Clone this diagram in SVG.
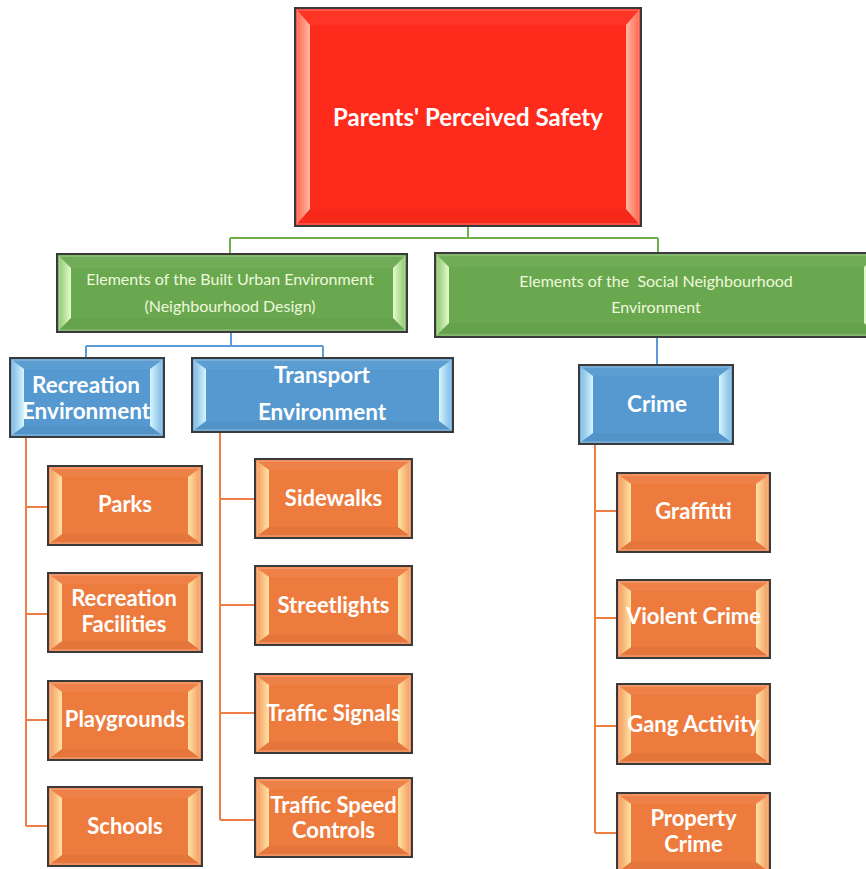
<svg xmlns="http://www.w3.org/2000/svg" width="866" height="869" viewBox="0 0 866 869">
<defs>
<linearGradient id="gRedL" x1="0" y1="0" x2="1" y2="0"><stop offset="0" stop-color="#ff6a52"/><stop offset="1" stop-color="#ffb9a4"/></linearGradient>
<linearGradient id="gRedR" x1="1" y1="0" x2="0" y2="0"><stop offset="0" stop-color="#ff6a52"/><stop offset="1" stop-color="#ffb9a4"/></linearGradient>
<linearGradient id="gGrnL" x1="0" y1="0" x2="1" y2="0"><stop offset="0" stop-color="#92c874"/><stop offset="1" stop-color="#e4fccc"/></linearGradient>
<linearGradient id="gGrnR" x1="1" y1="0" x2="0" y2="0"><stop offset="0" stop-color="#92c874"/><stop offset="1" stop-color="#e4fccc"/></linearGradient>
<linearGradient id="gBluL" x1="0" y1="0" x2="1" y2="0"><stop offset="0" stop-color="#80bbe4"/><stop offset="1" stop-color="#d6f5ff"/></linearGradient>
<linearGradient id="gBluR" x1="1" y1="0" x2="0" y2="0"><stop offset="0" stop-color="#80bbe4"/><stop offset="1" stop-color="#d6f5ff"/></linearGradient>
<linearGradient id="gOrgL" x1="0" y1="0" x2="1" y2="0"><stop offset="0" stop-color="#f49c62"/><stop offset="1" stop-color="#ffe4a4"/></linearGradient>
<linearGradient id="gOrgR" x1="1" y1="0" x2="0" y2="0"><stop offset="0" stop-color="#f49c62"/><stop offset="1" stop-color="#ffe4a4"/></linearGradient>
<style>
.box{stroke:#3a3a3a;stroke-width:2}
.red{fill:#fe2a1b}.grn{fill:#6aa84f}.blu{fill:#5599d0}.org{fill:#ee7b3e}
.redL{fill:url(#gRedL)}.redR{fill:url(#gRedR)}
.grnL{fill:url(#gGrnL)}.grnR{fill:url(#gGrnR)}
.bluL{fill:url(#gBluL)}.bluR{fill:url(#gBluR)}
.orgL{fill:url(#gOrgL)}.orgR{fill:url(#gOrgR)}
.top{fill:#ffffff;fill-opacity:0.05}.bot{fill:#000000;fill-opacity:0.035}
.rim{fill:none;stroke:#ffffff;stroke-opacity:0.35;stroke-width:1}
text{font-family:Lato,"Liberation Sans",sans-serif;fill:#ffffff;text-anchor:middle}
.t1{font-size:24px;font-weight:bold}
.t2{font-size:16px;font-weight:normal;fill:#eef8dc}
.t3{font-size:22.5px;font-weight:bold}
.t4{font-size:22px;font-weight:bold}
.con{fill:none;stroke-width:2}
.cg{stroke:#72ae4e}.cb{stroke:#5b9bd5}.co{stroke:#f07d44}
</style>
</defs>
<rect x="0" y="0" width="866" height="869" fill="#ffffff"/>

<g id="connectors">
<path class="con cg" d="M468,226 V238 M230,238 H658 M230,238 V254 M658,238 V253"/>
<path class="con cb" d="M231,332 V346 M86,346 H323 M86,346 V358 M323,346 V358 M657,337 V365"/>
<path class="con co" d="M26,437 V826 M26,507 H48 M26,614 H48 M26,720 H48 M26,826 H48"/>
<path class="con co" d="M220,432 V820 M220,499 H255 M220,605 H255 M220,713 H255 M220,820 H255"/>
<path class="con co" d="M595,444 V833 M595,511 H617 M595,618 H617 M595,726 H617 M595,833 H617"/>
</g>

<g id="root" transform="translate(295,8)">
<rect class="box red" width="346" height="218"/>
<polygon class="top" points="2,2 344,2 331,17 15,17"/>
<polygon class="bot" points="2,216 344,216 331,201 15,201"/>
<polygon class="redL" points="2,2 15,17 15,201 2,216"/>
<polygon class="redR" points="344,2 331,17 331,201 344,216"/>
<rect class="rim" x="2" y="2" width="342" height="214"/>
<text class="t1" x="173" y="118">Parents' Perceived Safety</text>
</g>

<g id="built" transform="translate(57,254)">
<rect class="box grn" width="350" height="78"/>
<polygon class="top" points="2,2 348,2 336,14 14,14"/>
<polygon class="bot" points="2,76 348,76 336,64 14,64"/>
<polygon class="grnL" points="2,2 14,14 14,64 2,76"/>
<polygon class="grnR" points="348,2 336,14 336,64 348,76"/>
<rect class="rim" x="2" y="2" width="346" height="74"/>
<text class="t2" x="173" y="31">Elements of the Built Urban Environment</text>
<text class="t2" x="173" y="57.5">(Neighbourhood Design)</text>
</g>

<g id="social" transform="translate(435,253)">
<rect class="box grn" width="443" height="84"/>
<polygon class="top" points="2,2 441,2 429,14 14,14"/>
<polygon class="bot" points="2,82 441,82 429,70 14,70"/>
<polygon class="grnL" points="2,2 14,14 14,70 2,82"/>
<polygon class="grnR" points="441,2 429,14 429,70 441,82"/>
<rect class="rim" x="2" y="2" width="439" height="80"/>
<text class="t2" x="221" y="34">Elements of the&#160; Social Neighbourhood</text>
<text class="t2" x="221" y="60">Environment</text>
</g>

<g id="recreation" transform="translate(10,358)">
<rect class="box blu" width="154" height="79"/>
<polygon class="top" points="2,2 152,2 140,11 14,11"/>
<polygon class="bot" points="2,77 152,77 140,68 14,68"/>
<polygon class="bluL" points="2,2 14,11 14,68 2,77"/>
<polygon class="bluR" points="152,2 140,11 140,68 152,77"/>
<rect class="rim" x="2" y="2" width="150" height="75"/>
<text class="t3" x="76" y="35">Recreation</text>
<text class="t3" x="76" y="60.5">Environment</text>
</g>

<g id="transport" transform="translate(192,358)">
<rect class="box blu" width="261" height="74"/>
<polygon class="top" points="2,2 259,2 247,11 14,11"/>
<polygon class="bot" points="2,72 259,72 247,63 14,63"/>
<polygon class="bluL" points="2,2 14,11 14,63 2,72"/>
<polygon class="bluR" points="259,2 247,11 247,63 259,72"/>
<rect class="rim" x="2" y="2" width="257" height="70"/>
<text class="t3" x="130" y="25">Transport</text>
<text class="t3" x="130" y="62">Environment</text>
</g>

<g id="crime" transform="translate(579,365)">
<rect class="box blu" width="154" height="79"/>
<polygon class="top" points="2,2 152,2 140,11 14,11"/>
<polygon class="bot" points="2,77 152,77 140,68 14,68"/>
<polygon class="bluL" points="2,2 14,11 14,68 2,77"/>
<polygon class="bluR" points="152,2 140,11 140,68 152,77"/>
<rect class="rim" x="2" y="2" width="150" height="75"/>
<text class="t3" x="78" y="47">Crime</text>
</g>

<g id="parks" transform="translate(48,466)">
<rect class="box org" width="154" height="79"/>
<polygon class="top" points="2,2 152,2 140,11 14,11"/>
<polygon class="bot" points="2,77 152,77 140,68 14,68"/>
<polygon class="orgL" points="2,2 14,11 14,68 2,77"/>
<polygon class="orgR" points="152,2 140,11 140,68 152,77"/>
<rect class="rim" x="2" y="2" width="150" height="75"/>
<text class="t4" x="77" y="46">Parks</text>
</g>

<g id="recfacilities" transform="translate(48,573)">
<rect class="box org" width="154" height="79"/>
<polygon class="top" points="2,2 152,2 140,11 14,11"/>
<polygon class="bot" points="2,77 152,77 140,68 14,68"/>
<polygon class="orgL" points="2,2 14,11 14,68 2,77"/>
<polygon class="orgR" points="152,2 140,11 140,68 152,77"/>
<rect class="rim" x="2" y="2" width="150" height="75"/>
<text class="t4" x="76" y="33">Recreation</text>
<text class="t4" x="76" y="58.5">Facilities</text>
</g>

<g id="playgrounds" transform="translate(48,681)">
<rect class="box org" width="154" height="79"/>
<polygon class="top" points="2,2 152,2 140,11 14,11"/>
<polygon class="bot" points="2,77 152,77 140,68 14,68"/>
<polygon class="orgL" points="2,2 14,11 14,68 2,77"/>
<polygon class="orgR" points="152,2 140,11 140,68 152,77"/>
<rect class="rim" x="2" y="2" width="150" height="75"/>
<text class="t4" x="77" y="46">Playgrounds</text>
</g>

<g id="schools" transform="translate(48,787)">
<rect class="box org" width="154" height="79"/>
<polygon class="top" points="2,2 152,2 140,11 14,11"/>
<polygon class="bot" points="2,77 152,77 140,68 14,68"/>
<polygon class="orgL" points="2,2 14,11 14,68 2,77"/>
<polygon class="orgR" points="152,2 140,11 140,68 152,77"/>
<rect class="rim" x="2" y="2" width="150" height="75"/>
<text class="t4" x="77" y="47">Schools</text>
</g>

<g id="sidewalks" transform="translate(255,459)">
<rect class="box org" width="157" height="79"/>
<polygon class="top" points="2,2 155,2 143,11 14,11"/>
<polygon class="bot" points="2,77 155,77 143,68 14,68"/>
<polygon class="orgL" points="2,2 14,11 14,68 2,77"/>
<polygon class="orgR" points="155,2 143,11 143,68 155,77"/>
<rect class="rim" x="2" y="2" width="153" height="75"/>
<text class="t4" x="78.5" y="47">Sidewalks</text>
</g>

<g id="streetlights" transform="translate(255,566)">
<rect class="box org" width="157" height="79"/>
<polygon class="top" points="2,2 155,2 143,11 14,11"/>
<polygon class="bot" points="2,77 155,77 143,68 14,68"/>
<polygon class="orgL" points="2,2 14,11 14,68 2,77"/>
<polygon class="orgR" points="155,2 143,11 143,68 155,77"/>
<rect class="rim" x="2" y="2" width="153" height="75"/>
<text class="t4" x="78.5" y="46.5">Streetlights</text>
</g>

<g id="trafficsignals" transform="translate(255,674)">
<rect class="box org" width="157" height="79"/>
<polygon class="top" points="2,2 155,2 143,11 14,11"/>
<polygon class="bot" points="2,77 155,77 143,68 14,68"/>
<polygon class="orgL" points="2,2 14,11 14,68 2,77"/>
<polygon class="orgR" points="155,2 143,11 143,68 155,77"/>
<rect class="rim" x="2" y="2" width="153" height="75"/>
<text class="t4" x="78.5" y="46.5">Traffic Signals</text>
</g>

<g id="trafficspeed" transform="translate(255,778)">
<rect class="box org" width="157" height="79"/>
<polygon class="top" points="2,2 155,2 143,11 14,11"/>
<polygon class="bot" points="2,77 155,77 143,68 14,68"/>
<polygon class="orgL" points="2,2 14,11 14,68 2,77"/>
<polygon class="orgR" points="155,2 143,11 143,68 155,77"/>
<rect class="rim" x="2" y="2" width="153" height="75"/>
<text class="t4" x="78.5" y="35">Traffic Speed</text>
<text class="t4" x="78.5" y="60">Controls</text>
</g>

<g id="graffitti" transform="translate(617,473)">
<rect class="box org" width="153" height="79"/>
<polygon class="top" points="2,2 151,2 139,11 14,11"/>
<polygon class="bot" points="2,77 151,77 139,68 14,68"/>
<polygon class="orgL" points="2,2 14,11 14,68 2,77"/>
<polygon class="orgR" points="151,2 139,11 139,68 151,77"/>
<rect class="rim" x="2" y="2" width="149" height="75"/>
<text class="t4" x="76.5" y="46">Graffitti</text>
</g>

<g id="violentcrime" transform="translate(617,580)">
<rect class="box org" width="153" height="78"/>
<polygon class="top" points="2,2 151,2 139,11 14,11"/>
<polygon class="bot" points="2,76 151,76 139,67 14,67"/>
<polygon class="orgL" points="2,2 14,11 14,67 2,76"/>
<polygon class="orgR" points="151,2 139,11 139,67 151,76"/>
<rect class="rim" x="2" y="2" width="149" height="74"/>
<text class="t4" x="76.5" y="43.5">Violent Crime</text>
</g>

<g id="gangactivity" transform="translate(617,684)">
<rect class="box org" width="153" height="80"/>
<polygon class="top" points="2,2 151,2 139,11 14,11"/>
<polygon class="bot" points="2,78 151,78 139,69 14,69"/>
<polygon class="orgL" points="2,2 14,11 14,69 2,78"/>
<polygon class="orgR" points="151,2 139,11 139,69 151,78"/>
<rect class="rim" x="2" y="2" width="149" height="76"/>
<text class="t4" x="76.5" y="47.5">Gang Activity</text>
</g>

<g id="propertycrime" transform="translate(617,793)">
<rect class="box org" width="153" height="80"/>
<polygon class="top" points="2,2 151,2 139,11 14,11"/>
<polygon class="bot" points="2,78 151,78 139,69 14,69"/>
<polygon class="orgL" points="2,2 14,11 14,69 2,78"/>
<polygon class="orgR" points="151,2 139,11 139,69 151,78"/>
<rect class="rim" x="2" y="2" width="149" height="76"/>
<text class="t4" x="76.5" y="33">Property</text>
<text class="t4" x="76.5" y="58.5">Crime</text>
</g>
</svg>
